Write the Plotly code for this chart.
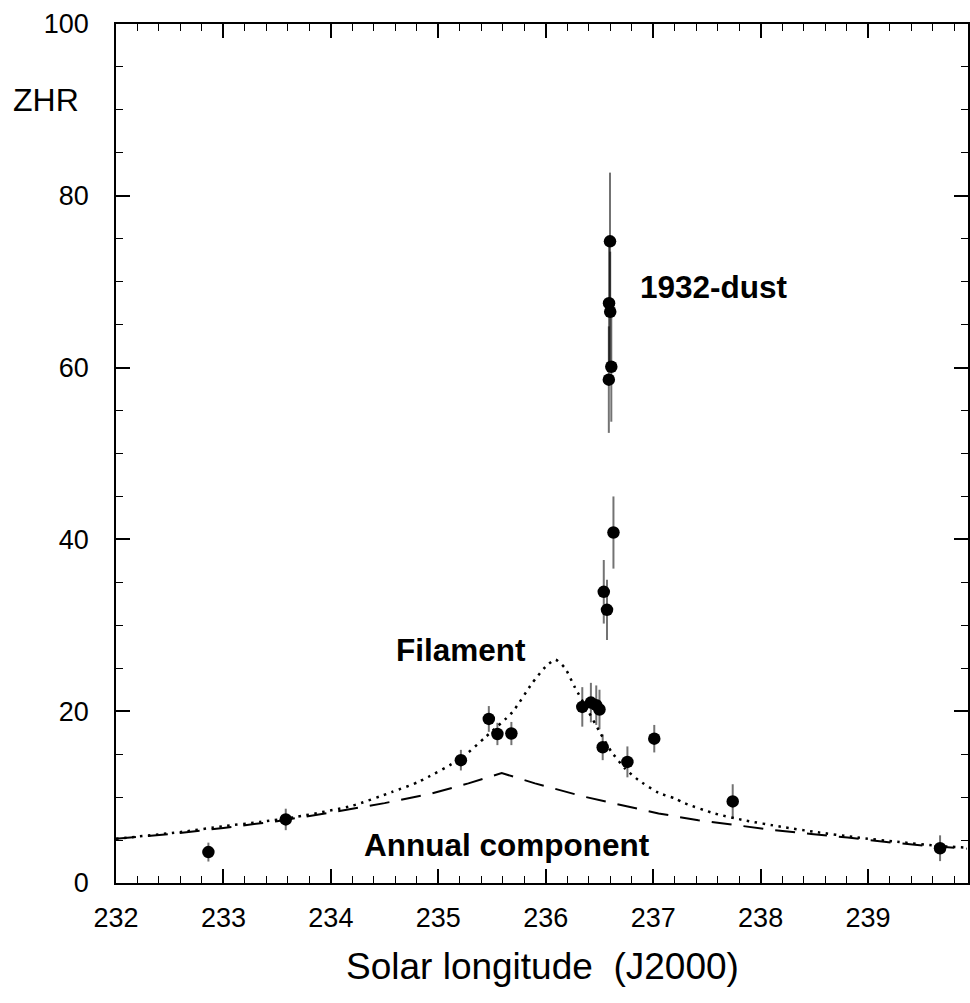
import plotly.graph_objects as go

# Observed ZHR points (solar longitude, ZHR, error)
obs_lon = [232.86, 233.58, 235.21, 235.47, 235.55, 235.68, 236.34, 236.42, 236.47, 236.50,
           236.53, 236.76, 237.01, 237.74, 239.67,
           236.598, 236.589, 236.600, 236.610, 236.587, 236.63, 236.54, 236.57]
obs_zhr = [3.6, 7.4, 14.3, 19.1, 17.35, 17.4, 20.5, 21.0, 20.7, 20.2,
           15.8, 14.1, 16.8, 9.5, 4.05,
           74.7, 67.5, 66.5, 60.1, 58.6, 40.8, 33.9, 31.8]
obs_err = [1.1, 1.25, 1.2, 1.5, 1.3, 1.35, 2.3, 2.3, 2.3, 2.3,
           1.5, 1.8, 1.6, 2.0, 1.5,
           8.0, 7.0, 7.0, 6.4, 6.2, 4.2, 3.7, 3.5]

# Annual component (dashed curve)
ann_lon = [232.0, 232.5, 233.0, 233.5, 234.0, 234.5, 234.93, 235.28, 235.59,
           235.9, 236.34, 236.71, 237.05, 237.42, 237.76, 238.10, 238.47,
           238.81, 239.15, 239.52, 239.92]
ann_zhr = [5.15, 5.7, 6.4, 7.2, 8.2, 9.3, 10.4, 11.6, 12.8,
           11.6, 10.1, 9.1, 8.1, 7.3, 6.75, 6.2, 5.7,
           5.3, 4.8, 4.35, 4.0]

# Filament + annual (dotted curve)
fil_lon = [232.0, 232.62, 232.99, 233.34, 233.68, 234.2, 234.57, 234.82, 235.21,
           235.44, 235.69, 235.87, 236.0, 236.09, 236.18, 236.27, 236.40, 236.51,
           236.61, 236.74, 236.86, 237.05, 237.20, 237.29, 237.57, 237.85, 238.19,
           238.50, 238.90, 239.27, 239.67, 239.92]
fil_zhr = [5.15, 5.96, 6.6, 7.1, 7.7, 9.0, 10.6, 11.8, 14.5,
           17.0, 19.9, 23.2, 25.2, 26.0, 25.0, 22.8, 19.9, 17.4,
           15.3, 13.3, 12.0, 10.5, 9.85, 9.3, 8.1, 7.3, 6.55,
           5.96, 5.3, 4.8, 4.3, 4.12]

x_ticks = [232, 233, 234, 235, 236, 237, 238, 239]
y_ticks = [0, 20, 40, 60, 80, 100]

FONT = "Liberation Sans, Arial, sans-serif"

fig = go.Figure()
fig.add_trace(go.Scatter(x=ann_lon, y=ann_zhr, mode="lines",
                         line=dict(color="black", width=2, dash="20px,12px"),
                         hoverinfo="skip"))
fig.add_trace(go.Scatter(x=fil_lon, y=fil_zhr, mode="lines",
                         line=dict(color="black", width=2.5, dash="2.5px,5.5px", shape="spline", smoothing=0.6),
                         hoverinfo="skip"))
fig.add_trace(go.Scatter(x=obs_lon, y=obs_zhr, mode="markers",
                         marker=dict(color="black", size=12.5),
                         error_y=dict(type="data", array=obs_err, visible=True,
                                      color="rgba(0,0,0,0.55)", thickness=2, width=0)))

axis_common = dict(showline=True, linecolor="black", linewidth=1.5, mirror="ticks",
                   ticks="inside", ticklen=14, tickwidth=1.5, tickcolor="black",
                   showgrid=False, zeroline=False,
                   tickfont=dict(family=FONT, size=27, color="black"))

fig.update_xaxes(range=[232, 239.93], tickvals=x_ticks, ticklabelstandoff=10,
                 minor=dict(dtick=0.2, ticks="inside", ticklen=7, tickwidth=1.2, tickcolor="black"),
                 **axis_common)
fig.update_yaxes(range=[0, 100], tickvals=y_ticks, ticklabelstandoff=20,
                 minor=dict(dtick=5, ticks="inside", ticklen=7, tickwidth=1.2, tickcolor="black"),
                 **axis_common)

fig.update_layout(
    width=970, height=1003,
    margin=dict(l=116, r=0, t=24, b=120),
    paper_bgcolor="white", plot_bgcolor="white",
    showlegend=False,
    font=dict(family=FONT, color="black"),
    annotations=[
        dict(text="ZHR", x=232, y=91.1, xref="x", yref="y", xshift=-70, showarrow=False,
             font=dict(family=FONT, size=32), xanchor="center", yanchor="middle"),
        dict(text="<b>1932-dust</b>", x=237.57, y=69.4, xref="x", yref="y", showarrow=False,
             font=dict(family=FONT, size=31.5), xanchor="center", yanchor="middle"),
        dict(text="<b>Filament</b>", x=235.21, y=27.1, xref="x", yref="y", showarrow=False,
             font=dict(family=FONT, size=31.5), xanchor="center", yanchor="middle"),
        dict(text="<b>Annual component</b>", x=235.64, y=4.4, xref="x", yref="y", showarrow=False,
             font=dict(family=FONT, size=31.5), xanchor="center", yanchor="middle"),
        dict(text="Solar longitude  (J2000)", x=0.5, y=0, xref="paper", yref="paper", yshift=-83,
             showarrow=False, font=dict(family=FONT, size=37), xanchor="center", yanchor="middle"),
    ],
)

fig.write_html("out.html")
